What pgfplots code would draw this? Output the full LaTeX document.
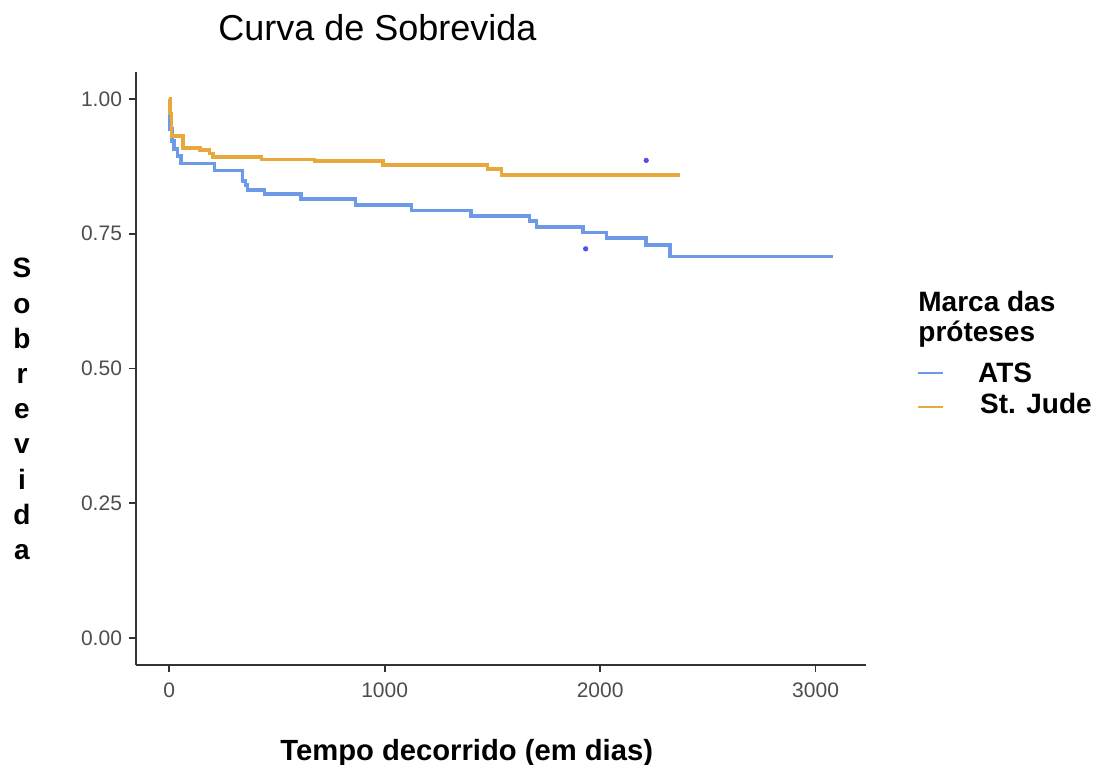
\documentclass[border=0pt]{standalone}
\usepackage{fontspec}
\setmainfont{Liberation Sans}
\usepackage{pgfplots}
\pgfplotsset{compat=1.18}
\usepackage{pgfplotstable}

\definecolor{atsblue}{HTML}{6C9AE6}
\definecolor{stjorange}{HTML}{E8A93C}
\definecolor{dotblue}{HTML}{5050F2}
\definecolor{axisgray}{HTML}{333333}
\definecolor{ticklab}{HTML}{4D4D4D}

% Kaplan-Meier steps: time (days), survival after the event
\pgfplotstableread{
t     s
0     1.000
3     0.944
12    0.922
22    0.907
38    0.894
55    0.880
211   0.867
341   0.848
355   0.840
364   0.831
443   0.824
613   0.814
865   0.803
1125  0.793
1402  0.783
1673  0.774
1705  0.763
1920  0.752
2029  0.742
2214  0.729
2323  0.708
3080  0.708
}\ats

\pgfplotstableread{
t     s
0     1.000
4     0.973
10    0.931
63    0.909
142   0.905
188   0.899
202   0.892
429   0.888
675   0.885
991   0.878
1478  0.870
1543  0.859
2369  0.859
}\stjude

\begin{document}
\begin{tikzpicture}
\useasboundingbox (-68pt,-50pt) rectangle (480.5pt,332.5pt);
\begin{axis}[
  at={(0pt,0pt)}, anchor=south west,
  scale only axis,
  width=365pt, height=296.5pt,
  xmin=-154, xmax=3234,
  ymin=-0.05, ymax=1.05,
  axis x line*=bottom, axis y line*=left,
  axis line style={axisgray, line width=0.9pt},
  xtick={0,1000,2000,3000},
  ytick={0,0.25,0.5,0.75,1},
  tick align=outside,
  major tick length=3.5pt,
  tick style={axisgray, line width=0.9pt},
  scaled ticks=false,
  /pgf/number format/assume math mode=true,
  tick label style={font=\fontsize{10.5}{12}\selectfont, text=ticklab},
  xticklabel style={/pgf/number format/set thousands separator={}, yshift=-2pt},
  yticklabel style={/pgf/number format/.cd, fixed, fixed zerofill, precision=2},
  legend image code/.code={\draw[#1, line width=1.1pt] (0pt,0pt) -- (12.5pt,0pt);},
  legend style={draw=none, fill=none, inner sep=0pt, outer sep=0pt,
    font=\bfseries\fontsize{14}{16}\selectfont,
    nodes={inner sep=0pt, text height=8pt, text depth=9pt},
    at={(axis description cs:1.0699,0.5211)}, anchor=north west},
  legend cell align=left,
  clip=false,
]
\addplot[const plot, atsblue, line width=1.8pt] table[x=t, y=s] {\ats};
\addlegendentry{\hspace{17pt}\raisebox{-5.5pt}{ATS}}
\addplot[const plot, stjorange, line width=1.8pt] table[x=t, y=s] {\stjude};
\addlegendentry{\hspace{18pt}\raisebox{-4pt}{St. Jude}}
\addplot[only marks, mark=*, mark size=1.1pt, dotblue, forget plot]
  coordinates {(2214,0.886) (1933,0.722)};
\end{axis}

% titles and labels
\node[anchor=base west, inner sep=0pt, font=\fontsize{18}{20}\selectfont]
  at (41pt,312.2pt) {Curva de Sobrevida};
\node[anchor=base west, inner sep=0pt, font=\bfseries\fontsize{14.6}{16}\selectfont]
  at (72pt,-47.5pt) {Tempo decorrido (em dias)};
\foreach \c [count=\i from 0] in {S,o,b,r,e,v,i,d,a}
  \node[anchor=base, inner sep=0pt, font=\bfseries\fontsize{14}{16}\selectfont]
    at (-57pt,{193.5pt-\i*17.6pt}) {\c};
\node[anchor=base west, inner sep=0pt, font=\bfseries\fontsize{14}{16}\selectfont]
  at (391pt,176.6pt) {Marca das};
\node[anchor=base west, inner sep=0pt, font=\bfseries\fontsize{14}{16}\selectfont]
  at (391pt,161.6pt) {próteses};
\end{tikzpicture}
\end{document}
